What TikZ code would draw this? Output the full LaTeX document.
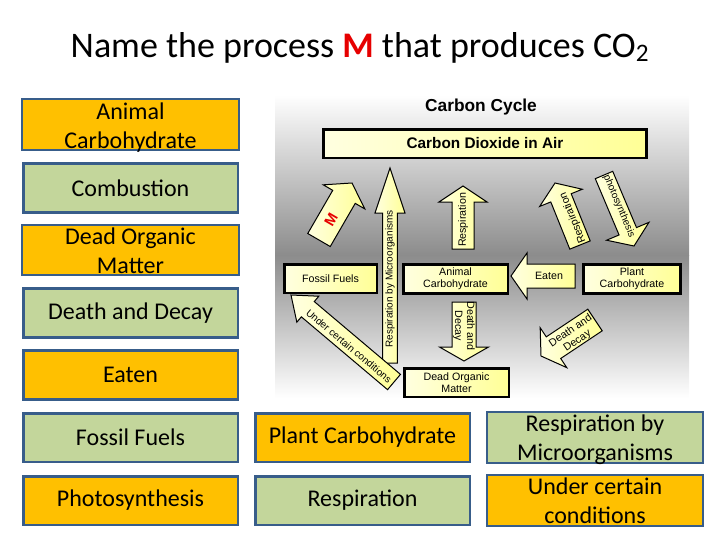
\documentclass[tikz,border=0pt]{standalone}
\usepackage{fontspec}
\setmainfont{Carlito}
\newfontfamily\cyclefont{Liberation Sans}
\usepackage{amsmath,amssymb,xcolor,tikz}
\usetikzlibrary{calc}

\definecolor{btnorange}{RGB}{255,192,0}
\definecolor{btngreen}{RGB}{195,214,155}
\definecolor{btnedge}{RGB}{56,93,138}
\definecolor{paleyellow}{RGB}{255,255,224}
\definecolor{deepyellow}{RGB}{255,255,150}
\definecolor{bggray}{RGB}{140,140,140}
\definecolor{mred}{RGB}{230,0,0}

\tikzset{
  btn/.style={draw=btnedge, line width=2pt, minimum width=161pt, minimum height=36.5pt,
    inner xsep=0pt, inner ysep=0pt, align=center, font=\fontsize{18}{21.75}\selectfont},
  btno/.style={btn, fill=btnorange},
  btng/.style={btn, fill=btngreen},
  twoline/.style={draw=none, fill=none, inner ysep=-2.5pt},
  cyclebox/.style={draw=black, line width=1.9pt, left color=paleyellow, right color=deepyellow,
    align=center, inner sep=0pt, font=\cyclefont\fontsize{8}{9}\selectfont},
  cyclearrow/.style={draw=black, line width=0.75pt, left color=paleyellow, right color=deepyellow},
  arrowtext/.style={inner sep=0pt, align=center, font=\cyclefont\fontsize{8}{9}\selectfont},
  smalltext/.style={arrowtext, font=\cyclefont\fontsize{7.5}{9}\selectfont},
}

% tail, tip, shaft half width, head half width, head length
\newcommand{\blockarrow}[5]{%
  \coordinate (ba) at ($(#2)!#5!(#1)$);
  \draw[cyclearrow] ($(#1)!#3!90:(#2)$) -- ($(ba)!#3!90:(#2)$) -- ($(ba)!#4!90:(#2)$) -- (#2)
    -- ($(ba)!#4!-90:(#2)$) -- ($(ba)!#3!-90:(#2)$) -- ($(#1)!#3!-90:(#2)$) -- cycle;
}

\begin{document}
\begin{tikzpicture}[x=0.75pt,y=0.75pt,yscale=-1,xscale=1]
\useasboundingbox (0,0) rectangle (720,540);

\node (title) [anchor=base, font=\fontsize{27}{32}\selectfont] at (360,57)
  {Name the process \textcolor{mred}{\textbf{M}} that produces CO\textsubscript{2}};

% answer buttons
\draw[btno] (22,99) rectangle (239,150);
\node (animalbtn) [btno, twoline] at (130.5,127.5) {Animal\\Carbohydrate};
\node (combbtn) [btng] at (130.5,188) {Combustion};
\draw[btno] (22,225) rectangle (239,275);
\node (deadbtn) [btno, twoline] at (130.5,251) {Dead Organic\\Matter};
\node (decaybtn) [btng] at (130.5,313) {Death and Decay};
\node (eatenbtn) [btno] at (130.5,375) {Eaten};
\node (fossilbtn) [btng] at (130.5,437.5) {Fossil Fuels};
\node (photobtn) [btno] at (130.5,500.5) {Photosynthesis};
\node (plantbtn) [btno] at (362.5,437.5) {Plant Carbohydrate};
\node (respbtn) [btng] at (362.5,500.5) {Respiration};
\draw[btng] (487,412) rectangle (703,463);
\node (microbtn) [btng, twoline] at (595,440) {Respiration by\\Microorganisms};
\draw[btno] (487,475) rectangle (703,526);
\node (certainbtn) [btno, twoline] at (595,500.5) {Under certain\\conditions};

% carbon cycle picture
\shade [top color=white, bottom color=bggray] (275,95) rectangle (689,255);
\shade [top color=bggray, bottom color=white] (275,255) rectangle (689,398);

\node (cctitle) [font=\cyclefont\bfseries\fontsize{13}{15}\selectfont] at (481,107) {Carbon Cycle};
\node (co2) [cyclebox, minimum width=242.6pt, minimum height=21.4pt,
  font=\cyclefont\bfseries\fontsize{11.5}{13}\selectfont] at (485,143.5) {Carbon Dioxide in Air};
\node (fossil) [cyclebox, minimum width=69.4pt, minimum height=21.4pt] at (330.5,278.5) {Fossil Fuels};
\node (animal) [cyclebox, minimum width=78.4pt, minimum height=22.1pt] at (455.5,279) {Animal\\Carbohydrate};
\node (plant) [cyclebox, minimum width=73.1pt, minimum height=22.1pt] at (632,279) {Plant\\Carbohydrate};
\node (dead) [cyclebox, minimum width=78.4pt, minimum height=21.4pt] at (456.5,382.5) {Dead Organic\\Matter};

\coordinate (mtail) at (319,240);
\coordinate (mtip) at (352,183);
\blockarrow{mtail}{mtip}{9.75pt}{18pt}{12pt}
\node (mlabel) [arrowtext, rotate=60, text=mred, font=\cyclefont\bfseries\fontsize{11}{13}\selectfont] at (331,220) {M};

\coordinate (microtail) at (390,363);
\coordinate (microtip) at (390,168);
\blockarrow{microtail}{microtip}{5.6pt}{11.25pt}{33.75pt}
\node (microlabel) [smalltext, rotate=90] at (390,279) {Respiration by Microorganisms};

\coordinate (rtail) at (463,249);
\coordinate (rtip) at (463,186);
\blockarrow{rtail}{rtip}{8.25pt}{18pt}{12pt}
\node (rlabel) [arrowtext, rotate=90] at (463,220) {Respiration};

\coordinate (prtail) at (580,245);
\coordinate (prtip) at (555,183);
\blockarrow{prtail}{prtip}{8.25pt}{17.25pt}{12pt}
\node (prlabel) [arrowtext, rotate=112] at (573,218) {Respiration};

\coordinate (phtail) at (604,175);
\coordinate (phtip) at (634,246);
\blockarrow{phtail}{phtip}{7.1pt}{17.25pt}{12pt}
\node (phlabel) [smalltext, rotate=-67] at (619,206) {photosynthesis};

\coordinate (etail) at (575,276);
\coordinate (etip) at (511,276);
\blockarrow{etail}{etip}{9pt}{17.25pt}{12pt}
\node (elabel) [arrowtext] at (549,276) {Eaten};

\coordinate (dtail) at (464,302);
\coordinate (dtip) at (464,361);
\blockarrow{dtail}{dtip}{9pt}{18.4pt}{10.5pt}
\node (dlabel) [arrowtext, rotate=-90] at (464,326) {Death and\\Decay};

\coordinate (pdtail) at (595,320);
\coordinate (pdtip) at (541,356);
\blockarrow{pdtail}{pdtip}{9.75pt}{18pt}{11.25pt}
\node (pdlabel) [arrowtext, rotate=34] at (574,336) {Death and\\Decay};

\coordinate (utail) at (394,382);
\coordinate (utip) at (291,295);
\blockarrow{utail}{utip}{7.5pt}{12.75pt}{16.5pt}
\node (ulabel) [smalltext, rotate=-40] at (349,346) {Under certain conditions};

\end{tikzpicture}
\end{document}
